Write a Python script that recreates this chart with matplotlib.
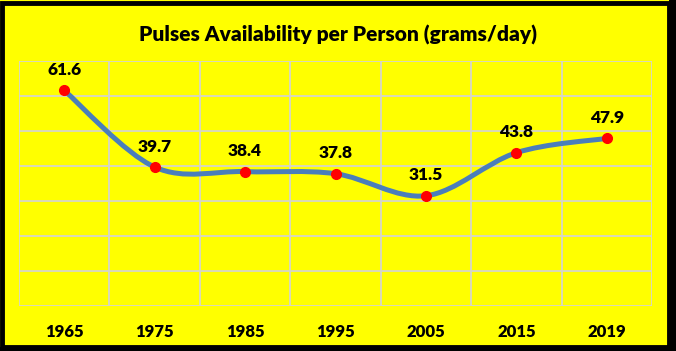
import matplotlib.pyplot as plt
import numpy as np
from matplotlib.path import Path
from matplotlib.patches import PathPatch, Rectangle

years = ['1965', '1975', '1985', '1995', '2005', '2015', '2019']
values = [61.6, 39.7, 38.4, 37.8, 31.5, 43.8, 47.9]

plt.rcParams['font.family'] = ['Lato', 'DejaVu Sans']

fig = plt.figure(figsize=(6.76, 3.51), dpi=100)
fig.patch.set_facecolor('yellow')
W, H = 676, 351
ax = fig.add_axes([19 / W, 1 - 306 / H, (652 - 19) / W, (306 - 61) / H])
ax.set_facecolor('yellow')

x = np.arange(len(values))
y = np.array(values)

# excel-style smoothed line: cubic bezier through the points
verts = [(x[0], y[0])]
codes = [Path.MOVETO]
n = len(x)
for i in range(n - 1):
    p0 = np.array([x[max(i - 1, 0)], y[max(i - 1, 0)]])
    p1 = np.array([x[i], y[i]])
    p2 = np.array([x[i + 1], y[i + 1]])
    p3 = np.array([x[min(i + 2, n - 1)], y[min(i + 2, n - 1)]])
    c1 = p1 + (p2 - p0) / 6
    c2 = p2 - (p3 - p1) / 6
    verts += [tuple(c1), tuple(c2), tuple(p2)]
    codes += [Path.CURVE4] * 3
ax.add_patch(PathPatch(Path(verts, codes), facecolor='none', edgecolor='#4a7ebb',
                       lw=3.6, capstyle='round', joinstyle='round', zorder=3))
ax.plot(x, y, 'o', color='red', ms=7, zorder=4)

for xi, yi in zip(x, y):
    ax.annotate(f'{yi:.1f}', (xi, yi), xytext=(0, 9), textcoords='offset points',
                ha='center', va='bottom', fontsize=12.5, fontweight='heavy', color='black')

ax.set_xlim(-0.5, n - 0.5)
ax.set_ylim(0, 70)
ax.set_yticks(np.arange(0, 71, 10))
ax.set_xticks(np.arange(-0.5, n, 1), minor=False)
ax.set_xticklabels([])
ax.set_xticks(x, minor=True)
ax.set_xticklabels(years, minor=True, fontsize=12, fontweight='heavy')
ax.tick_params(axis='x', which='both', length=0, pad=13)
ax.tick_params(axis='y', length=0, labelleft=False)
ax.grid(True, which='major', color='#d6d6c8', lw=1.3)
for s in ax.spines.values():
    s.set_visible(False)

fig.text(0.5, 1 - 35 / H, 'Pulses Availability per Person (grams/day)', ha='center', va='center',
         fontsize=15, fontweight='heavy')

# black frame around the chart
fig.patches.append(Rectangle((1.5 / W, 4 / H), (669 - 1.5) / W, (348.5 - 4) / H, transform=fig.transFigure,
                             facecolor='none', edgecolor='black', lw=3.5))
fig.patches.append(Rectangle((669 / W, 0), 7 / W, 1, transform=fig.transFigure, facecolor='black', edgecolor='none'))
fig.patches.append(Rectangle((0, 0), 1, 4 / H, transform=fig.transFigure, facecolor='black', edgecolor='none'))

fig.savefig('out.png', dpi=100, facecolor=fig.get_facecolor())
